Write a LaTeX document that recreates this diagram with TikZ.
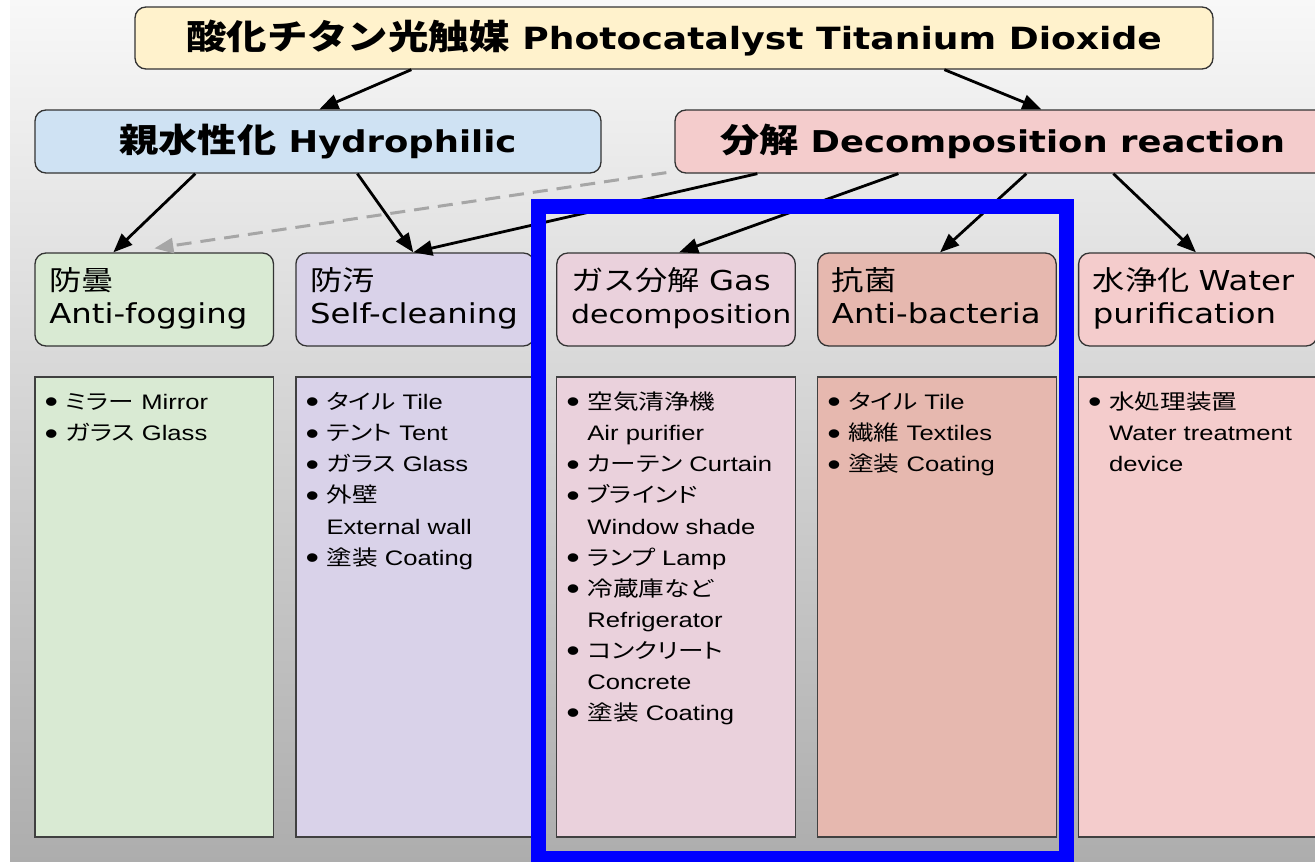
\documentclass[tikz,border=0pt]{standalone}
\usepackage{fontspec}
\setmainfont{DejaVu Sans}
\newfontfamily\hf[FakeStretch=1.18]{DejaVu Sans}
\newfontfamily\hjp[FakeStretch=1.18]{Noto Sans CJK JP}
\newfontfamily\lf[FakeStretch=1.22]{Liberation Sans}
\newfontfamily\ljp[FakeStretch=1.22,RawFeature=+palt]{Noto Sans CJK JP}
\usetikzlibrary{arrows.meta,calc}
\definecolor{cYel}{HTML}{FFF2CC}
\definecolor{cBlue}{HTML}{CFE2F3}
\definecolor{cPink}{HTML}{F4CCCC}
\definecolor{cGreen}{HTML}{D9EAD3}
\definecolor{cPurp}{HTML}{D9D2E9}
\definecolor{cMag}{HTML}{EAD1DC}
\definecolor{cRed}{HTML}{E6B8AF}
\definecolor{cDash}{HTML}{A6A6A6}
\definecolor{bgTop}{HTML}{F8F8F8}
\definecolor{bgBot}{HTML}{ADADAD}
\newcommand\lbul{\makebox[21pt][l]{\raisebox{-3.3pt}{\scalebox{1.5}{•}}}}
\newcommand\lcont{\hspace*{21pt}}
\newcommand\tjp[1]{{\hjp\fontsize{34.3}{36}\selectfont #1}}
\newcommand\sjp[1]{{\hjp\fontsize{33.2}{36}\selectfont #1}}
\newcommand\mjp[1]{{\hjp\fontsize{27.3}{33}\selectfont #1}}
\newcommand\topstrut{\rule{0pt}{24pt}}
\newcommand\botstrut{\rule[-9pt]{0pt}{9pt}}
\begin{document}
\begin{tikzpicture}[x=1pt,y=-1pt,
  hbox/.style={draw=black!80, line width=1.3pt, rounded corners=11pt, inner sep=0pt},
  topbox/.style={hbox, font=\hf\bfseries\fontsize{30.6}{36}\selectfont},
  midbox/.style={hbox, minimum height=63pt, font=\hf\bfseries\fontsize{30}{36}\selectfont},
  lthree/.style={hbox, minimum width=238.5pt, minimum height=93pt, text width=210pt, inner xsep=14pt, inner ysep=0pt, align=left, font=\hf\fontsize{27.4}{33}\selectfont},
  lowbox/.style={draw=black!75, line width=1.2pt, minimum width=238.5pt, minimum height=460pt, inner sep=0pt},
  ltext/.style={anchor=north west, inner sep=0pt, align=left, font=\lf\fontsize{21}{31.1}\selectfont},
  arr/.style={line width=2.8pt, -{Triangle[length=19pt,width=15pt]}},
  darr/.style={draw=cDash, line width=3pt, dash pattern=on 15pt off 9pt, -{Triangle[length=19pt,width=15pt]}}
]
\useasboundingbox (0,0) rectangle (1315,862);
\fill[white] (0,0) rectangle (1315,862);
\shade[top color=bgTop, bottom color=bgBot] (10,0) rectangle (1315,862);

% level 1 and 2
\node[topbox, fill=cYel, minimum width=1078pt, minimum height=62pt] (top) at (674,38)
  {\tjp{酸化チタン光触媒} Photocatalyst Titanium Dioxide};
\node[midbox, fill=cBlue, minimum width=566pt] (hyd) at (318,141.5)
  {\sjp{親水性化} Hydrophilic};
\node[midbox, fill=cPink, minimum width=655pt] (dec) at (1002.5,141.5)
  {\sjp{分解} Decomposition reaction};

% level 3
\node[lthree, fill=cGreen] (fog) at (154.25,299.5) {\topstrut\mjp{防曇}\\Anti-fogging\botstrut};
\node[lthree, fill=cPurp]  (self) at (415.15,299.5) {\topstrut\mjp{防汚}\\Self-cleaning\botstrut};
\node[lthree, fill=cMag]   (gas) at (676.05,299.5) {\topstrut\mjp{ガス分解} Gas\\{\fontsize{25.4}{33}\selectfont decomposition}\botstrut};
\node[lthree, fill=cRed]   (bac) at (936.95,299.5) {\topstrut\mjp{抗菌}\\Anti-bacteria\botstrut};
\node[lthree, fill=cPink]  (wat) at (1197.85,299.5) {\topstrut\mjp{水浄化} Water\\purification\botstrut};

% lower boxes
\node[lowbox, fill=cGreen] (fogL) at (154.25,607) {};
\node[lowbox, fill=cPurp]  (selfL) at (415.15,607) {};
\node[lowbox, fill=cMag]   (gasL) at (676.05,607) {};
\node[lowbox, fill=cRed]   (bacL) at (936.95,607) {};
\node[lowbox, fill=cPink]  (watL) at (1197.85,607) {};

\node[ltext] (fogT) at ([xshift=10pt,yshift=-11pt]fogL.north west)
  {\rule{0pt}{22pt}\lbul{\ljp ミラー} Mirror\\\lbul{\ljp ガラス} Glass};
\node[ltext] (selfT) at ([xshift=10pt,yshift=-11pt]selfL.north west)
  {\rule{0pt}{22pt}\lbul{\ljp タイル} Tile\\\lbul{\ljp テント} Tent\\\lbul{\ljp ガラス} Glass\\\lbul{\ljp 外壁}\\\lcont External wall\\\lbul{\ljp 塗装} Coating};
\node[ltext] (gasT) at ([xshift=10pt,yshift=-11pt]gasL.north west)
  {\rule{0pt}{22pt}\lbul{\ljp 空気清浄機}\\\lcont Air purifier\\\lbul{\ljp カーテン} Curtain\\\lbul{\ljp ブラインド}\\\lcont Window shade\\\lbul{\ljp ランプ} Lamp\\\lbul{\ljp 冷蔵庫など}\\\lcont Refrigerator\\\lbul{\ljp コンクリート}\\\lcont Concrete\\\lbul{\ljp 塗装} Coating};
\node[ltext] (bacT) at ([xshift=10pt,yshift=-11pt]bacL.north west)
  {\rule{0pt}{22pt}\lbul{\ljp タイル} Tile\\\lbul{\ljp 繊維} Textiles\\\lbul{\ljp 塗装} Coating};
\node[ltext] (watT) at ([xshift=10pt,yshift=-11pt]watL.north west)
  {\rule{0pt}{22pt}\lbul{\ljp 水処理装置}\\\lcont Water treatment\\\lcont device};

% connectors
\draw[arr] ([xshift=277pt]top.south west) -- ([xshift=285pt]hyd.north west);
\draw[arr] ([xshift=810pt]top.south west) -- ([xshift=367pt]dec.north west);
\draw[arr] ([xshift=161pt]hyd.south west) -- ([xshift=79pt]fog.north west);
\draw[arr] ([xshift=323pt]hyd.south west) -- ([xshift=118pt]self.north west);
\draw[arr] ([xshift=83pt]dec.south west) -- ([xshift=118pt]self.north west);
\draw[arr] ([xshift=224pt]dec.south west) -- ([xshift=123pt]gas.north west);
\draw[arr] ([xshift=352pt]dec.south west) -- ([xshift=123pt]bac.north west);
\draw[arr] ([xshift=439pt]dec.south west) -- ([xshift=118pt]wat.north west);
\draw[darr] ([xshift=-8pt,yshift=1pt]dec.south west) -- ([xshift=120pt,yshift=4pt]fog.north west);

% highlight
\node[draw=blue, line width=15pt, minimum width=528pt, minimum height=652pt, inner sep=0pt] (hl) at (802,532) {};
\end{tikzpicture}
\end{document}
